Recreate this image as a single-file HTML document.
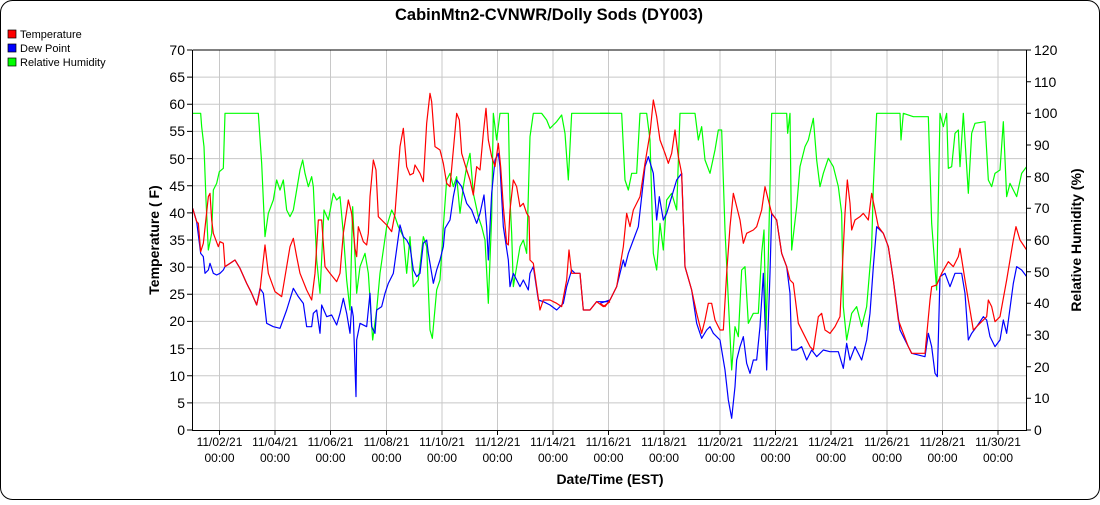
<!DOCTYPE html>
<html><head><meta charset="utf-8"><style>
body{margin:0;background:#fff}
svg text{font-family:"Liberation Sans",Arial,sans-serif}
</style></head><body>
<svg width="1100" height="500" viewBox="0 0 1100 500" xmlns="http://www.w3.org/2000/svg">
<rect x="0.5" y="0.5" width="1099" height="499" rx="12" fill="#fff" stroke="#000"/>
<text x="549" y="20" font-size="16.5" font-weight="bold" text-anchor="middle">CabinMtn2-CVNWR/Dolly Sods (DY003)</text>
<rect x="8" y="30" width="8" height="8" fill="#f00" stroke="#000" stroke-width="0.7"/>
<text x="20" y="38" font-size="11">Temperature</text>
<rect x="8" y="44" width="8" height="8" fill="#00f" stroke="#000" stroke-width="0.7"/>
<text x="20" y="52" font-size="11">Dew Point</text>
<rect x="8" y="58" width="8" height="8" fill="#0f0" stroke="#000" stroke-width="0.7"/>
<text x="20" y="66" font-size="11">Relative Humidity</text>
<g stroke="#c8c8c8" stroke-width="1">
<path d="M219.5 50V430M275 50V430M330.5 50V430M386.5 50V430M442 50V430M497.5 50V430M553 50V430M608.5 50V430M664 50V430M720 50V430M775.5 50V430M831 50V430M887 50V430M942.5 50V430M998 50V430"/>
<path d="M192 77.1H1026M192 104.3H1026M192 131.4H1026M192 158.6H1026M192 185.7H1026M192 212.9H1026M192 240H1026M192 267.1H1026M192 294.3H1026M192 321.4H1026M192 348.6H1026M192 375.7H1026M192 402.9H1026"/>
</g>
<g stroke="#000" stroke-width="1" fill="none">
<path d="M192.5 50V430.5H1026.5V50H192.5"/>
<path d="M187 50H192M187 77.1H192M187 104.3H192M187 131.4H192M187 158.6H192M187 185.7H192M187 212.9H192M187 240H192M187 267.1H192M187 294.3H192M187 321.4H192M187 348.6H192M187 375.7H192M187 402.9H192M187 430H192"/>
<path d="M1026 430H1031M1026 398.3H1031M1026 366.7H1031M1026 335H1031M1026 303.3H1031M1026 271.7H1031M1026 240H1031M1026 208.3H1031M1026 176.7H1031M1026 145H1031M1026 113.3H1031M1026 81.7H1031M1026 50H1031"/>
<path d="M219.5 430V435M275 430V435M330.5 430V435M386.5 430V435M442 430V435M497.5 430V435M553 430V435M608.5 430V435M664 430V435M720 430V435M775.5 430V435M831 430V435M887 430V435M942.5 430V435M998 430V435"/>
</g>
<g font-size="14" text-anchor="end">
<text x="185" y="55">70</text><text x="185" y="82">65</text><text x="185" y="109">60</text><text x="185" y="136">55</text><text x="185" y="164">50</text><text x="185" y="191">45</text><text x="185" y="218">40</text><text x="185" y="245">35</text><text x="185" y="272">30</text><text x="185" y="299">25</text><text x="185" y="326">20</text><text x="185" y="354">15</text><text x="185" y="381">10</text><text x="185" y="408">5</text><text x="185" y="435">0</text>
</g>
<g font-size="14">
<text x="1034" y="435">0</text><text x="1034" y="403">10</text><text x="1034" y="372">20</text><text x="1034" y="340">30</text><text x="1034" y="308">40</text><text x="1034" y="277">50</text><text x="1034" y="245">60</text><text x="1034" y="213">70</text><text x="1034" y="182">80</text><text x="1034" y="150">90</text><text x="1034" y="118">100</text><text x="1034" y="87">110</text><text x="1034" y="55">120</text>
</g>
<g font-size="12" text-anchor="middle">
<text x="219.5" y="446">11/02/21</text><text x="219.5" y="462">00:00</text>
<text x="275" y="446">11/04/21</text><text x="275" y="462">00:00</text>
<text x="330.5" y="446">11/06/21</text><text x="330.5" y="462">00:00</text>
<text x="386.5" y="446">11/08/21</text><text x="386.5" y="462">00:00</text>
<text x="442" y="446">11/10/21</text><text x="442" y="462">00:00</text>
<text x="497.5" y="446">11/12/21</text><text x="497.5" y="462">00:00</text>
<text x="553" y="446">11/14/21</text><text x="553" y="462">00:00</text>
<text x="608.5" y="446">11/16/21</text><text x="608.5" y="462">00:00</text>
<text x="664" y="446">11/18/21</text><text x="664" y="462">00:00</text>
<text x="720" y="446">11/20/21</text><text x="720" y="462">00:00</text>
<text x="775.5" y="446">11/22/21</text><text x="775.5" y="462">00:00</text>
<text x="831" y="446">11/24/21</text><text x="831" y="462">00:00</text>
<text x="887" y="446">11/26/21</text><text x="887" y="462">00:00</text>
<text x="942.5" y="446">11/28/21</text><text x="942.5" y="462">00:00</text>
<text x="998" y="446">11/30/21</text><text x="998" y="462">00:00</text>
</g>
<text x="610" y="484" font-size="14" font-weight="bold" text-anchor="middle">Date/Time (EST)</text>
<text transform="translate(159,240) rotate(-90)" font-size="14" font-weight="bold" text-anchor="middle">Temperature ( F)</text>
<text transform="translate(1081,240) rotate(-90)" font-size="14" font-weight="bold" text-anchor="middle">Relative Humidity (%)</text>
<defs><clipPath id="c"><rect x="193" y="50" width="833" height="380"/></clipPath></defs>
<g clip-path="url(#c)" fill="none" stroke-width="1.2" stroke-linejoin="round">
<g transform="translate(180,40) scale(0.33333)">
<polyline vector-effect="non-scaling-stroke" stroke="#0f0" points="38,220 62,220 65,260 72,320 78,480 85,630 95,580 100,450 110,430 118,395 130,385 135,220 235,220 245,370 255,590 265,520 280,480 290,420 300,450 310,420 320,510 330,530 340,510 350,450 360,390 368,360 375,400 385,440 395,410 400,440 410,660 420,760 432,510 445,540 460,460 470,480 480,470 490,580 500,720 510,810 518,500 530,760 540,680 555,640 565,700 578,900 590,810 600,700 620,560 635,510 645,530 655,560 670,590 680,700 690,590 700,740 715,720 730,590 740,620 750,870 757,895 770,750 780,720 790,560 800,420 810,400 820,440 830,410 840,520 850,440 860,380 870,340 880,460 895,530 905,560 915,600 925,790 935,530 940,220 950,300 960,220 985,220 990,480 995,580 1000,740 1010,680 1020,620 1030,600 1040,640 1050,290 1060,220 1085,220 1100,240 1110,265 1120,255 1130,245 1145,225 1155,280 1165,420 1175,220 1290,220"/>
<polyline vector-effect="non-scaling-stroke" stroke="#00f" points="38,505 50,545 62,640 70,650 75,700 85,690 90,670 100,700 110,705 120,700 130,690 135,680 150,670 165,660 180,685 200,730 215,760 230,795 240,745 250,760 260,850 280,860 300,865 320,810 340,745 355,770 370,790 380,860 395,860 400,820 410,810 420,880 425,795 440,830 455,825 470,855 480,820 490,775 500,820 510,880 515,800 520,830 528,1070 530,900 540,850 560,860 570,760 575,860 585,880 590,810 605,800 615,760 625,730 640,700 660,555 670,590 680,600 690,620 700,690 710,710 720,700 730,610 740,600 745,640 760,730 770,690 780,660 790,620 795,565 810,540 820,470 830,420 845,440 860,490 875,510 890,550 900,520 912,465 920,560 925,660 935,460 945,360 955,340 960,380 970,560 985,660 990,740 1000,700 1010,720 1020,740 1030,720 1045,750 1050,700 1060,680 1075,780 1090,785 1110,795 1130,810 1150,790 1160,740 1175,690 1185,700 1200,700 1210,810 1230,810 1250,785 1290,785"/>
<polyline vector-effect="non-scaling-stroke" stroke="#f00" points="38,505 50,545 55,550 62,635 70,610 85,470 90,460 95,540 100,580 115,620 120,605 130,610 135,680 150,670 165,660 180,685 200,730 215,760 230,795 240,750 255,615 265,700 285,755 305,770 320,680 330,620 340,595 350,650 360,700 380,750 395,780 405,700 415,540 425,540 435,680 450,700 470,725 480,700 490,580 505,480 515,520 525,625 530,650 535,560 545,590 550,605 560,615 565,580 570,470 580,360 588,390 595,530 610,545 620,555 635,575 645,520 660,320 670,265 680,380 690,405 700,400 705,375 720,400 730,425 740,250 750,160 755,185 765,320 780,330 790,370 800,430 810,440 820,330 830,220 838,240 845,340 860,390 870,420 880,465 890,380 900,390 910,280 918,205 925,300 935,350 945,380 955,310 962,380 970,500 980,610 985,615 990,510 1000,420 1010,440 1020,500 1030,490 1040,520 1047,530 1050,660 1060,670 1070,740 1080,810 1090,780 1110,780 1130,790 1145,800 1160,720 1167,630 1175,700 1185,700 1200,700 1210,810 1230,810 1250,785 1270,800 1290,785"/>
</g>
<g transform="translate(600,40) scale(0.33333)">
<polyline vector-effect="non-scaling-stroke" stroke="#0f0" points="0,220 65,220 75,420 85,450 95,400 110,400 120,220 140,220 150,300 160,640 170,690 180,550 190,630 200,480 215,460 230,510 240,220 285,220 295,300 305,260 315,360 330,400 345,330 355,270 365,270 375,570 385,780 395,990 405,860 415,890 425,690 435,680 445,850 460,820 475,820 485,640 492,570 498,870 505,650 515,220 560,220 563,280 570,220 575,630 590,500 600,380 615,320 625,300 640,235 650,360 660,440 670,400 685,355 700,380 715,440 725,520 730,800 740,900 755,820 770,800 785,860 800,800 815,620 820,440 830,220 900,220 903,300 910,220 940,230 985,230 995,550 1010,750 1020,220 1030,260 1040,220 1045,385 1055,380 1065,280 1075,270 1080,380 1090,220 1105,460 1115,280 1125,250 1155,245 1165,420 1175,440 1185,400 1200,390 1210,245 1220,470 1230,430 1250,470 1265,400 1280,380"/>
<polyline vector-effect="non-scaling-stroke" stroke="#00f" points="0,790 30,780 50,740 70,660 75,680 85,640 100,600 115,560 125,470 135,380 145,350 160,400 170,540 178,470 190,540 200,520 215,470 230,420 245,400 255,680 275,750 290,850 305,895 320,870 330,860 340,880 360,900 375,990 385,1080 395,1135 405,1040 410,960 420,920 430,890 440,970 450,1000 460,960 470,960 480,860 490,700 500,990 510,700 515,520 530,540 545,640 560,680 570,760 575,930 590,930 605,920 620,960 635,930 650,950 670,930 690,935 715,935 730,985 740,910 750,960 765,920 785,960 800,900 810,820 820,680 830,560 850,580 865,620 880,720 900,870 925,920 935,940 975,950 985,880 995,920 1005,1000 1012,1010 1020,710 1035,700 1050,740 1065,700 1085,700 1095,760 1105,900 1115,880 1130,860 1150,830 1160,840 1170,890 1185,920 1200,900 1210,840 1220,880 1240,730 1250,680 1265,690 1280,710"/>
<polyline vector-effect="non-scaling-stroke" stroke="#f00" points="0,790 15,800 30,780 50,740 70,620 80,520 90,560 100,510 120,470 135,370 150,280 160,180 170,230 180,300 195,340 205,370 215,340 225,270 235,350 245,400 255,680 275,750 290,820 305,880 315,840 325,790 335,790 345,840 360,870 370,870 380,700 390,560 400,460 410,500 420,540 430,610 440,580 460,570 470,560 485,510 495,440 505,480 515,520 530,540 545,640 560,680 570,720 580,730 595,850 610,880 630,920 640,930 655,830 665,820 675,870 690,880 705,860 720,830 735,520 742,420 750,490 755,570 765,540 780,530 790,520 805,540 815,460 825,510 835,560 850,580 865,620 880,720 895,840 910,880 925,920 935,940 975,940 990,780 995,740 1010,735 1025,700 1045,665 1060,680 1075,650 1080,625 1095,720 1105,780 1120,870 1140,850 1160,830 1165,780 1175,800 1185,845 1200,830 1220,720 1240,600 1248,560 1260,600 1280,630"/>
</g>
</g>
</svg>
</body></html>
